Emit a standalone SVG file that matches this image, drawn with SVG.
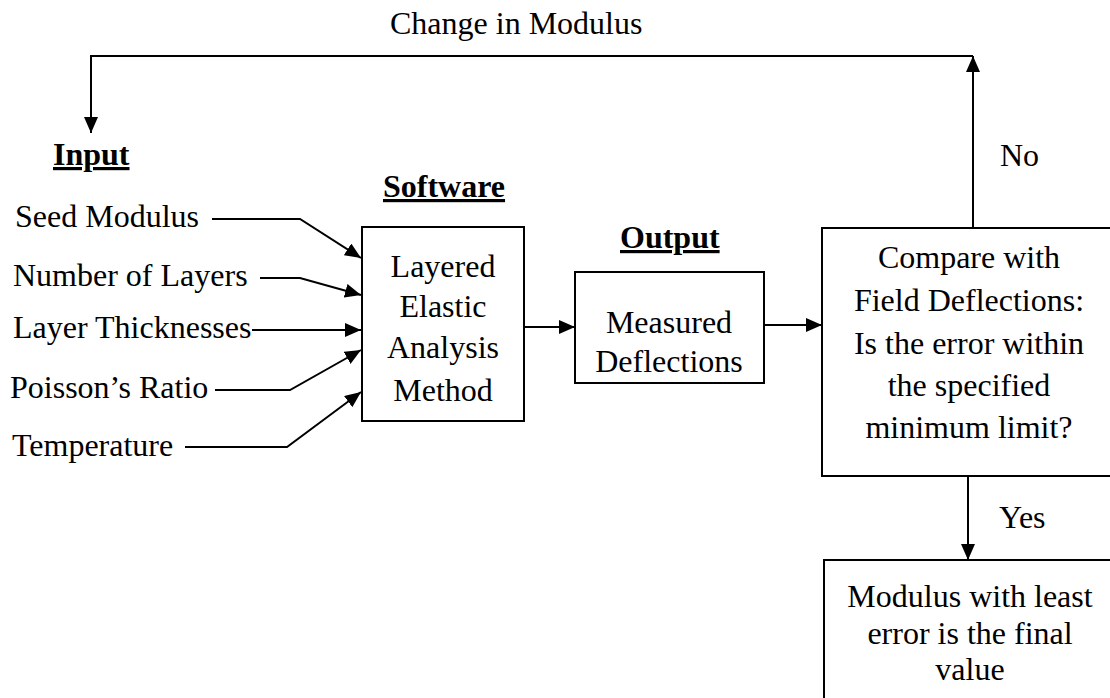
<svg xmlns="http://www.w3.org/2000/svg" width="1110" height="698" viewBox="0 0 1110 698">
  <style>
    text { font-family: "Liberation Serif", "Times New Roman", serif; font-size: 32px; fill: #000; }
    .c { text-anchor: middle; }
    .h { font-weight: bold; text-decoration: underline; }
    .box { fill: #fff; stroke: #000; stroke-width: 2; }
    .ln { fill: none; stroke: #000; stroke-width: 2; }
  </style>
  <defs>
    <marker id="ah" viewBox="0 0 16 14" refX="16" refY="7" markerWidth="16" markerHeight="14" markerUnits="userSpaceOnUse" orient="auto">
      <path d="M0,0 L16,7 L0,14 Z" fill="#000"/>
    </marker>
  </defs>

  <!-- connectors -->
  <g id="connectors">
    <polyline class="ln" points="212,219 300,219 361,258" marker-end="url(#ah)"/>
    <polyline class="ln" points="260,278 300,278 361,295" marker-end="url(#ah)"/>
    <polyline class="ln" points="252,330 361,330" marker-end="url(#ah)"/>
    <polyline class="ln" points="215,390 290,390 361,350" marker-end="url(#ah)"/>
    <polyline class="ln" points="185,447 287,447 361,392" marker-end="url(#ah)"/>
    <line class="ln" x1="524" y1="327" x2="575" y2="327" marker-end="url(#ah)"/>
    <line class="ln" x1="764" y1="325" x2="822" y2="325" marker-end="url(#ah)"/>
    <polyline class="ln" points="973,228 973,56" marker-end="url(#ah)"/>
    <polyline class="ln" points="973,56 91,56 91,133" marker-end="url(#ah)"/>
    <line class="ln" x1="968" y1="476" x2="968" y2="560" marker-end="url(#ah)"/>
    <text x="390" y="34">Change in Modulus</text>
    <text x="1000" y="166">No</text>
    <text x="999" y="528">Yes</text>
  </g>

  <g id="input">
    <text x="53" y="165" class="h">Input</text>
    <text x="15" y="227">Seed Modulus</text>
    <text x="13" y="286">Number of Layers</text>
    <text x="13" y="338">Layer Thicknesses</text>
    <text x="10" y="398">Poisson’s Ratio</text>
    <text x="12" y="456">Temperature</text>
  </g>

  <g id="software">
    <text x="383" y="197" class="h">Software</text>
    <rect class="box" x="362" y="227" width="162" height="194"/>
    <text x="443" y="277" class="c">Layered</text>
    <text x="443" y="317" class="c">Elastic</text>
    <text x="443" y="358" class="c">Analysis</text>
    <text x="443" y="401" class="c">Method</text>
  </g>

  <g id="output">
    <text x="620" y="248" class="h">Output</text>
    <rect class="box" x="575" y="272" width="189" height="111"/>
    <text x="669" y="333" class="c">Measured</text>
    <text x="669" y="372" class="c">Deflections</text>
  </g>

  <g id="compare">
    <rect class="box" x="822" y="228" width="300" height="248"/>
    <text x="969" y="268" class="c">Compare with</text>
    <text x="969" y="311" class="c">Field Deflections:</text>
    <text x="969" y="354" class="c">Is the error within</text>
    <text x="969" y="396" class="c">the specified</text>
    <text x="969" y="438" class="c">minimum limit?</text>
  </g>

  <g id="final">
    <rect class="box" x="824" y="560" width="300" height="160"/>
    <text x="970" y="607" class="c">Modulus with least</text>
    <text x="970" y="644" class="c">error is the final</text>
    <text x="970" y="680" class="c">value</text>
  </g>
</svg>
